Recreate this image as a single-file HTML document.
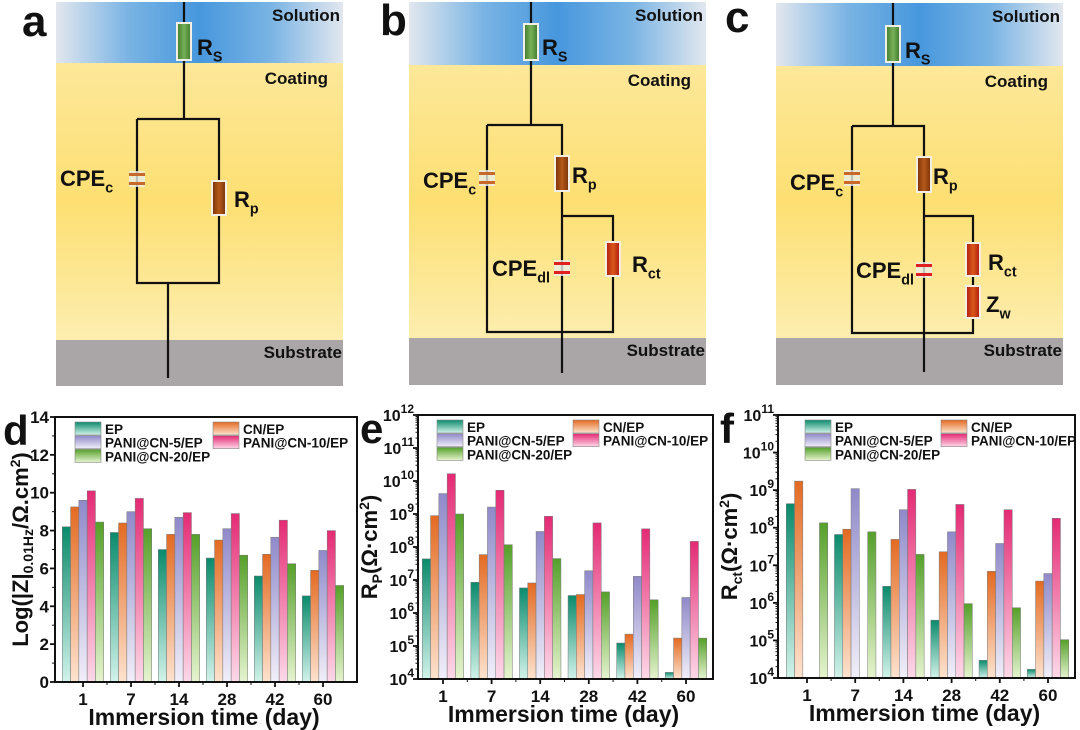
<!DOCTYPE html>
<html><head><meta charset="utf-8">
<style>
html,body{margin:0;padding:0;background:#fff;}
svg{display:block;font-family:"Liberation Sans",Arial,sans-serif;}
</style></head>
<body>
<svg id="fig" width="1080" height="730" viewBox="0 0 1080 730" xmlns="http://www.w3.org/2000/svg">
<defs>
  <linearGradient id="sol" x1="0" y1="0" x2="1" y2="0">
    <stop offset="0" stop-color="#e2e7ee"/><stop offset="0.25" stop-color="#7ab4e4"/><stop offset="0.5" stop-color="#4797dd"/><stop offset="0.75" stop-color="#7ab4e4"/><stop offset="1" stop-color="#e2e7ee"/>
  </linearGradient>
  <linearGradient id="coat" x1="0" y1="0" x2="0" y2="1">
    <stop offset="0" stop-color="#fde89a"/><stop offset="0.5" stop-color="#fddf72"/><stop offset="1" stop-color="#fdeeb0"/>
  </linearGradient>
  <linearGradient id="gRs" x1="0" y1="0" x2="1" y2="0"><stop offset="0" stop-color="#3d7a2a"/><stop offset="0.5" stop-color="#79b05a"/><stop offset="1" stop-color="#3d7a2a"/></linearGradient>
  <linearGradient id="gRp" x1="0" y1="0" x2="1" y2="0"><stop offset="0" stop-color="#7a3208"/><stop offset="0.5" stop-color="#b45a1a"/><stop offset="1" stop-color="#7a3208"/></linearGradient>
  <linearGradient id="gRc" x1="0" y1="0" x2="1" y2="0"><stop offset="0" stop-color="#b01a10"/><stop offset="0.5" stop-color="#d9581a"/><stop offset="1" stop-color="#b01a10"/></linearGradient>
</defs>
<g id="circuits"></g>
<g id="charts"></g>
</svg>
<script>
// ---------- chart data ----------
const days = ["1","7","14","28","42","60"];
const seriesNames = ["EP","CN/EP","PANI@CN-5/EP","PANI@CN-10/EP","PANI@CN-20/EP"];
// panel d: Log|Z|0.01Hz
const dEP  = [8.2,7.9,7.0,6.55,5.6,4.55];
const dCN  = [9.25,8.4,7.8,7.5,6.75,5.9];
const dP5  = [9.6,9.0,8.7,8.1,7.65,6.95];
const dP10 = [10.1,9.7,8.95,8.9,8.55,8.0];
const dP20 = [8.45,8.1,7.8,6.7,6.25,5.1];
const dTicks = [0,2,4,6,8,10,12,14];
// panel e: log10(Rp)
const eEP  = [7.64,6.93,6.76,6.53,5.09,4.2];
const eCN  = [8.95,7.77,6.91,6.56,5.36,5.24];
const eP5  = [9.62,9.21,8.47,7.28,7.11,6.47];
const eP10 = [10.22,9.72,8.93,8.73,8.55,8.17];
const eP20 = [9.0,8.07,7.65,6.64,6.4,5.24];
const eTicks = [4,5,6,7,8,9,10,11,12];
// panel f: log10(Rct)
const fEP  = [8.64,7.82,6.44,5.54,4.47,4.23];
const fCN  = [9.24,7.96,7.69,7.36,6.84,6.58];
const fP5  = [null,9.04,8.48,7.89,7.58,6.78];
const fP10 = [null,null,9.02,8.62,8.48,8.25];
const fP20 = [8.13,7.89,7.29,5.98,5.87,5.02];
const fTicks = [4,5,6,7,8,9,10,11];

const NS="http://www.w3.org/2000/svg";
function mk(tag,attrs,parent){const e=document.createElementNS(NS,tag);for(const k in attrs)e.setAttribute(k,attrs[k]);if(parent)parent.appendChild(e);return e;}
const svg=document.getElementById('fig');
const defs=svg.querySelector('defs');
const colors=[["#0b8a6c","#d2f3ea"],["#e36a22","#fde3cf"],["#8f89c9","#f1eff9"],["#e42a74","#fdd9e8"],["#55a02a","#e6f4cf"]];
colors.forEach((c,i)=>{const g=mk('linearGradient',{id:'bg'+i,x1:0,y1:0,x2:0,y2:1},defs);mk('stop',{offset:0,'stop-color':c[0]},g);mk('stop',{offset:1,'stop-color':c[1]},g);});

// ---------- circuits ----------
const C=document.getElementById('circuits');
function txt(parent,x,y,s,size,extra){const t=mk('text',Object.assign({x:x,y:y,'font-size':size,'font-weight':'bold',fill:'#111'},extra||{}),parent);t.textContent=s;return t;}
function sub(parent,x,y,main,subs,size){const t=mk('text',{x:x,y:y,'font-size':size,'font-weight':'bold',fill:'#111'},parent);const a=mk('tspan',{},t);a.textContent=main;const b=mk('tspan',{'font-size':size*0.65,dy:size*0.3},t);b.textContent=subs;return t;}
function line(p,pts){mk('polyline',{points:pts,fill:'none',stroke:'#111','stroke-width':2.2},p);}
function res(p,x,y1,y2,grad){mk('rect',{x:x-7,y:y1,width:14,height:y2-y1,fill:'url(#'+grad+')',stroke:'#f4efe4','stroke-width':2},p);}
function cap(p,x,y,col){mk('rect',{x:x-8,y:y-8,width:16,height:16,fill:'#e8eee8',opacity:0.8},p);mk('rect',{x:x-8,y:y-6,width:16,height:3,fill:col},p);mk('rect',{x:x-8,y:y+3,width:16,height:3,fill:col},p);}
function panelBg(p,x1,x2,yTop,ySol,ySub,yBot){
  mk('rect',{x:x1,y:ySol,width:x2-x1,height:ySub-ySol,fill:'url(#coat)'},p);
  mk('rect',{x:x1,y:yTop,width:x2-x1,height:ySol-yTop,fill:'url(#sol)'},p);
  mk('rect',{x:x1,y:ySub,width:x2-x1,height:yBot-ySub,fill:'#aaa5a6'},p);
  txt(p,x2-3,yTop+19,'Solution',17,{'text-anchor':'end'});
  txt(p,x2-15,ySol+21,'Coating',17,{'text-anchor':'end'});
  txt(p,x2-1,ySub+18,'Substrate',17,{'text-anchor':'end'});
}
// panel a
let pa=mk('g',{},C);
panelBg(pa,56,343,2,63,340,386);
txt(pa,22,36,'a',44);
line(pa,'184,2 184,119');line(pa,'137,119 219,119 219,283 137,283 137,119');line(pa,'168,283 168,378');
res(pa,184,23,60,'gRs');sub(pa,197,55,'R','S',22);
cap(pa,137,179,'#c8692a');sub(pa,60,186,'CPE','c',22);
res(pa,219,181,215,'gRp');sub(pa,234,207,'R','p',22);
// panel b
let pb=mk('g',{},C);
panelBg(pb,409,706,2,65,338,385);
txt(pb,380,35,'b',44);
line(pb,'531,2 531,125');line(pb,'487,125 562,125 562,332 487,332 487,125');line(pb,'562,216 613,216 613,332 562,332');line(pb,'562,332 562,373');
res(pb,531,24,60,'gRs');sub(pb,542,55,'R','S',22);
cap(pb,487,178,'#c8692a');sub(pb,423,188,'CPE','c',22);
res(pb,562,156,191,'gRp');sub(pb,572,183,'R','p',22);
cap(pb,562,268,'#e02020');sub(pb,492,276,'CPE','dl',22);
res(pb,613,242,276,'gRc');sub(pb,632,272,'R','ct',22);
// panel c
let pc=mk('g',{},C);
panelBg(pc,776,1063,3,66,338,385);
txt(pc,725,32,'c',44);
line(pc,'893,3 893,126');line(pc,'852,126 924,126 924,333 852,333 852,126');line(pc,'924,216 973,216 973,333 924,333');line(pc,'924,333 924,372');
res(pc,893,26,62,'gRs');sub(pc,905,58,'R','S',22);
cap(pc,852,178,'#c8692a');sub(pc,790,190,'CPE','c',22);
res(pc,924,157,192,'gRp');sub(pc,933,184,'R','p',22);
cap(pc,924,270,'#e02020');sub(pc,856,278,'CPE','dl',22);
res(pc,973,243,276,'gRc');sub(pc,988,270,'R','ct',22);
res(pc,973,286,318,'gRc');sub(pc,986,312,'Z','w',22);

// ---------- charts ----------
const G=document.getElementById('charts');
function chart(cfg){
  const g=mk('g',{},G);
  
  
  const {L,R,T,B,min,max}=cfg;
  const y=v=>B-(v-min)/(max-min)*(B-T);
  const step=(cfg.c1-cfg.c0)/(days.length-1);
  const x=i=>cfg.c0+i*step;
  const bw=8.3;
  cfg.series.forEach((arr,s)=>{
    arr.forEach((v,i)=>{
      if(v===null)return;
      const r=mk('rect',{x:x(i)+(s-2.5)*bw,y:y(v),width:bw,height:B-y(v),fill:'url(#bg'+s+')',stroke:'#777','stroke-width':0.5},g);
      
      
    });
  });
  const fr=mk('rect',{x:L,y:T,width:R-L,height:B-T,fill:'none',stroke:'#111','stroke-width':2},g);
  
  
  cfg.ticks.forEach(t=>{
    mk('line',{x1:L-5,x2:L,y1:y(t),y2:y(t),stroke:'#111','stroke-width':1.8},g);
    if(cfg.log){
      const tt=mk('text',{x:L-4,y:y(t)+6,'font-size':16,'font-weight':'bold','text-anchor':'end',fill:'#111'},g);
      const a=mk('tspan',{},tt);a.textContent='10';
      const b=mk('tspan',{'font-size':12,dy:-8},tt);b.textContent=String(t);
      
      
      if(t<max) for(let k=2;k<10;k++){const yy=y(t+Math.log10(k));mk('line',{x1:L-2.5,x2:L,y1:yy,y2:yy,stroke:'#111','stroke-width':1},g);}
    } else {
      const tt=mk('text',{x:L-6,y:y(t)+6,'font-size':17,'font-weight':'bold','text-anchor':'end',fill:'#111'},g);
      tt.textContent=String(t);
      
      
      if(t<max){const yy=y(t+1);mk('line',{x1:L-3,x2:L,y1:yy,y2:yy,stroke:'#111','stroke-width':1},g);}
    }
  });
  days.forEach((d,i)=>{
    mk('line',{x1:x(i),x2:x(i),y1:B,y2:B+5,stroke:'#111','stroke-width':1.8},g);
    if(i<days.length-1) mk('line',{x1:x(i)+step/2,x2:x(i)+step/2,y1:B,y2:B+3,stroke:'#111','stroke-width':1},g);
    const tt=mk('text',{x:x(i),y:B+23,'font-size':17,'font-weight':'bold','text-anchor':'middle',fill:'#111'},g);
    tt.textContent=d;
    
    
  });
  const xt=mk('text',{x:(L+R)/2-2,y:B+43,'font-size':23,'font-weight':'bold','text-anchor':'middle',fill:'#111'},g);
  xt.textContent='Immersion time (day)';
  
  
  const yt=mk('text',{transform:'translate('+cfg.ytx+','+((T+B)/2)+') rotate(-90)','font-size':22,'font-weight':'bold','text-anchor':'middle',fill:'#111'},g);
  cfg.ytitle.forEach(p=>{const s=mk('tspan',p.a||{},yt);s.textContent=p.t;});
  
  
  const pl=mk('text',{x:cfg.letterX,y:T+28,'font-size':42,'font-weight':'bold',fill:'#111'},g);
  pl.textContent=cfg.key;
  
  
  const pos=[[0,0],[1,0],[0,1],[1,1],[0,2]];
  seriesNames.forEach((n,s)=>{
    const lx=L+cfg.lg0+pos[s][0]*cfg.lgdx, ly=T+5+pos[s][1]*13.7;
    const lg=mk('g',{},g);
    
    
    mk('rect',{x:lx,y:ly,width:26,height:13,fill:'url(#bg'+s+')',stroke:'#888','stroke-width':0.6},lg);
    const tt=mk('text',{x:lx+30,y:ly+12,'font-size':13.5,'font-weight':'bold',fill:'#111'},lg);
    tt.textContent=n;
  });
}
chart({key:'d',name:'chart-d-impedance',L:55,R:357,T:417,B:682,min:0,max:14,log:false,c0:83,c1:323,
  series:[dEP,dCN,dP5,dP10,dP20],ticks:dTicks,ytx:28,letterX:3,lg0:20,lgdx:138,
  ytitle:[{t:'Log(|Z|'},{t:'0.01Hz',a:{'font-size':14,dy:5}},{t:'/Ω.cm',a:{dy:-5}},{t:'2',a:{'font-size':14,dy:-8}},{t:')',a:{dy:8}}]});
chart({key:'e',name:'chart-e-rp',L:418,R:713,T:415,B:679,min:4,max:12,log:true,c0:443,c1:686,
  series:[eEP,eCN,eP5,eP10,eP20],ticks:eTicks,ytx:377,letterX:360,lg0:19,lgdx:136,
  ytitle:[{t:'R'},{t:'P',a:{'font-size':14,dy:5}},{t:'(Ω·cm',a:{dy:-5}},{t:'2',a:{'font-size':14,dy:-8}},{t:')',a:{dy:8}}]});
chart({key:'f',name:'chart-f-rct',L:778,R:1075,T:415,B:678,min:4,max:11,log:true,c0:807,c1:1048,
  series:[fEP,fCN,fP5,fP10,fP20],ticks:fTicks,ytx:737,letterX:720,lg0:27,lgdx:136,
  ytitle:[{t:'R'},{t:'ct',a:{'font-size':14,dy:5}},{t:'(Ω·cm',a:{dy:-5}},{t:'2',a:{'font-size':14,dy:-8}},{t:')',a:{dy:8}}]});
</script>
</body></html>
